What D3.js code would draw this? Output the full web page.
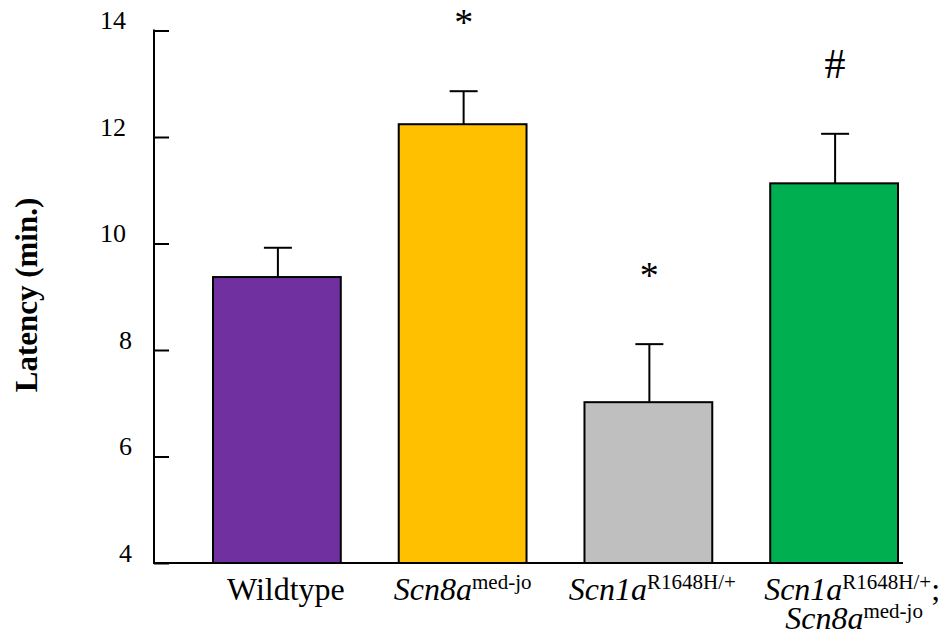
<!DOCTYPE html>
<html>
<head>
<meta charset="utf-8">
<script src="https://cdn.jsdelivr.net/npm/d3@7"></script>
<style>
  html, body { margin: 0; padding: 0; background: #fff; }
  svg { display: block; }
  svg text { font-family: "Liberation Serif", "Times New Roman", serif; fill: #000; }
</style>
</head>
<body>
<svg id="chart" width="943" height="641"></svg>
<script>
// Seizure latency by genotype (mean ± SEM)
const categories = ["Wildtype", "Scn8a med-jo", "Scn1a R1648H/+", "Scn1a R1648H/+; Scn8a med-jo"];
const means = [9.37, 12.24, 7.02, 11.13];
const sems = [0.55, 0.62, 1.09, 0.93];
const marks = ["", "*", "*", "#"];
const barColors = ["#7030A0", "#FFC000", "#BFBFBF", "#00B050"];
const yTicks = [4, 6, 8, 10, 12, 14];
const yTitle = "Latency (min.)";

const serif = "'Liberation Serif', 'Times New Roman', serif";
const svg = d3.select("#chart");

const x = d3.scaleBand()
  .domain(categories)
  .range([213, 898])
  .paddingInner(0.312)
  .paddingOuter(0);

const y = d3.scaleLinear()
  .domain([4, 14])
  .range([563, 30.5]);

const axisLeft = 154, axisRight = 903;

// Bars
svg.append("g")
  .selectAll("rect")
  .data(categories)
  .join("rect")
  .attr("x", d => x(d))
  .attr("y", (d, i) => y(means[i]))
  .attr("width", x.bandwidth())
  .attr("height", (d, i) => y(4) - y(means[i]))
  .attr("fill", (d, i) => barColors[i])
  .attr("stroke", "#000")
  .attr("stroke-width", 2);

// Upper error bars
const eb = svg.append("g").attr("stroke", "#000").attr("stroke-width", 2);
categories.forEach((c, i) => {
  const cx = x(c) + x.bandwidth() / 2 + 1;
  const top = y(means[i] + sems[i]);
  eb.append("line").attr("x1", cx).attr("x2", cx).attr("y1", y(means[i])).attr("y2", top);
  eb.append("line").attr("x1", cx - 14).attr("x2", cx + 14).attr("y1", top).attr("y2", top);
});

// Significance marks above the error bars
svg.append("g")
  .selectAll("text")
  .data(categories)
  .join("text")
  .attr("x", d => x(d) + x.bandwidth() / 2 + 1)
  .attr("y", (d, i) => y(means[i] + sems[i]) - 56)
  .attr("text-anchor", "middle")
  .attr("font-family", serif)
  .style("font-size", (d, i) => marks[i] === "#" ? "42px" : "38px")
  .text((d, i) => marks[i]);

// Y axis with inward ticks
const yAxis = d3.axisRight(y)
  .tickValues(yTicks)
  .tickSize(15)
  .tickFormat("");
const yg = svg.append("g")
  .attr("transform", `translate(${axisLeft},0)`)
  .call(yAxis);
yg.select(".domain").remove();
yg.selectAll(".tick line").attr("stroke", "#000").attr("stroke-width", 2);
svg.append("line")
  .attr("x1", axisLeft).attr("x2", axisLeft)
  .attr("y1", y(14) - 1).attr("y2", y(4) + 1)
  .attr("stroke", "#000").attr("stroke-width", 2);

// Tick labels sit slightly above their ticks
svg.append("g")
  .selectAll("text")
  .data(yTicks)
  .join("text")
  .attr("x", d => String(d).length === 1 ? 132 : 126)
  .attr("y", d => y(d) - 1.5)
  .attr("text-anchor", "end")
  .attr("font-family", serif)
  .style("font-size", "26px")
  .text(d => d);

// X axis baseline
svg.append("line")
  .attr("x1", axisLeft - 1).attr("x2", axisRight)
  .attr("y1", y(4)).attr("y2", y(4))
  .attr("stroke", "#000").attr("stroke-width", 2);

// Y axis title
svg.append("text")
  .attr("transform", `translate(37,295) rotate(-90)`)
  .attr("text-anchor", "middle")
  .attr("font-family", serif)
  .style("font-size", "31px")
  .style("font-weight", "bold")
  .text(yTitle);

// Category labels: italic gene symbol with upright superscript allele
const labelShift = [9, 0, 4, 18];
function labelLines(cat) {
  return cat.split(";").map(s => s.trim()).map((part, li, arr) => {
    const [gene, allele] = part.split(" ");
    return { gene, allele: allele || "", tail: li < arr.length - 1 ? ";" : "" };
  });
}
const xl = svg.append("g");
categories.forEach((c, i) => {
  const lines = labelLines(c);
  lines.forEach((ln, li) => {
    const t = xl.append("text")
      .attr("x", x(c) + x.bandwidth() / 2 + labelShift[i] + li * 2)
      .attr("y", 600 + li * 29)
      .attr("text-anchor", "middle")
      .attr("font-family", serif)
      .style("font-size", "32px");
    const italic = ln.allele !== "";
    t.append("tspan").style("font-style", italic ? "italic" : "normal").text(ln.gene);
    if (ln.allele) {
      t.append("tspan").attr("dy", -11).style("font-size", "21px").text(ln.allele);
      if (ln.tail) t.append("tspan").attr("dy", 11).text(ln.tail);
    }
  });
});
</script>
</body>
</html>
